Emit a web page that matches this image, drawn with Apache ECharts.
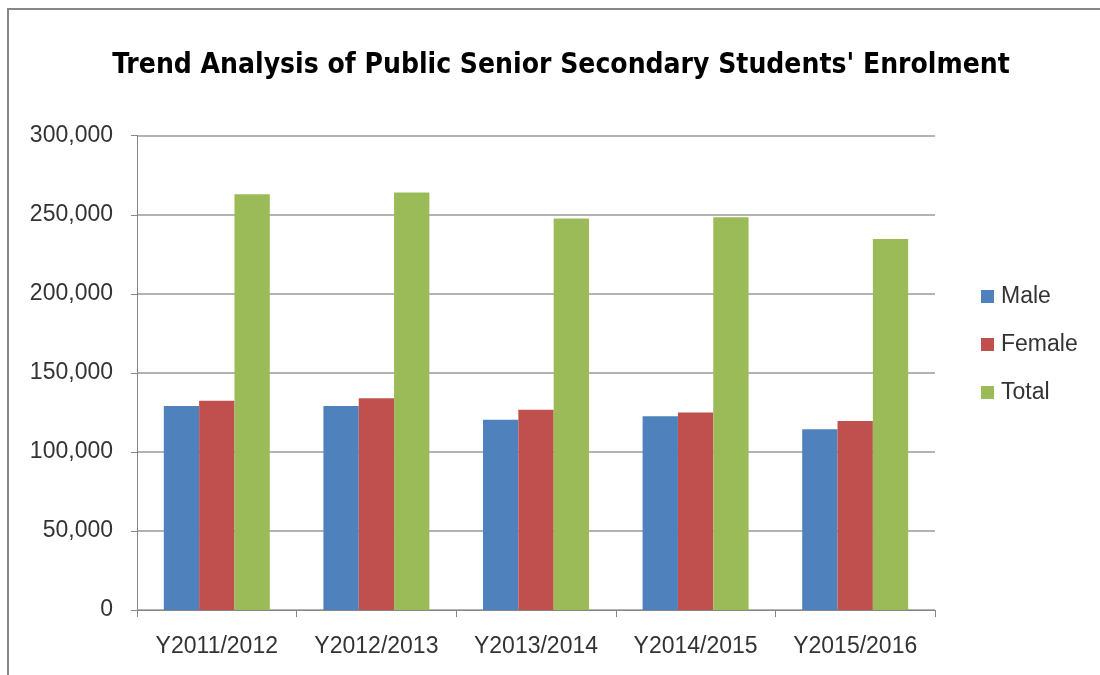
<!DOCTYPE html>
<html>
<head>
<meta charset="utf-8">
<script src="https://cdn.jsdelivr.net/npm/echarts@6/dist/echarts.min.js"></script>
<style>html,body{margin:0;padding:0;background:#fff}#c{width:1100px;height:675px}</style>
</head>
<body>
<div id="c"></div>
<script>
const categories = ['Y2011/2012','Y2012/2013','Y2013/2014','Y2014/2015','Y2015/2016'];
const male = [129100, 129100, 120300, 122600, 114400];
const female = [132300, 134000, 126600, 125000, 119500];
const total = [263000, 264000, 247600, 248400, 234700];
const seriesNames = ['Male','Female','Total'];
const colors = ['#4F81BD','#C0504D','#9BBB59'];

const chart = echarts.init(document.getElementById('c'), null, {renderer:'canvas'});
const labelFont = {fontFamily:'Liberation Sans, sans-serif', fontSize:23, color:'#333'};
chart.setOption({
  animation:false,
  backgroundColor:'#fff',
  title:{
    text:"Trend Analysis of Public Senior Secondary Students' Enrolment",
    left:556, top:47, textAlign:'center',
    textStyle:{fontFamily:'DejaVu Sans Condensed, DejaVu Sans, sans-serif', fontWeight:'bold', fontSize:28, color:'#000'}
  },
  graphic:[{type:'rect', shape:{x:8,y:9,width:1200,height:800}, style:{fill:'none', stroke:'#888', lineWidth:2}, silent:true}],
  legend:{
    orient:'vertical', left:976, top:280, itemWidth:13, itemHeight:13, itemGap:25,
    icon:'rect',
    textStyle:Object.assign({}, labelFont, {padding:[0,0,0,2]}),
    data:seriesNames
  },
  grid:{left:137, right:165, top:135.7, bottom:65, containLabel:false},
  xAxis:{
    type:'category', data:categories,
    axisLine:{lineStyle:{color:'#868686', width:1}},
    axisTick:{show:true, length:7, lineStyle:{color:'#868686'}},
    axisLabel:Object.assign({}, labelFont, {margin:25, interval:0})
  },
  yAxis:{
    type:'value', min:0, max:300000, interval:50000,
    axisLine:{show:true, lineStyle:{color:'#868686'}},
    axisTick:{show:true, length:6, lineStyle:{color:'#868686'}},
    splitLine:{lineStyle:{color:'#9a9a9a', width:1.5}},
    axisLabel:Object.assign({}, labelFont, {margin:24, formatter:v=>v.toLocaleString('en-US')})
  },
  series:[
    {name:seriesNames[0], type:'bar', data:male, itemStyle:{color:colors[0]}, barGap:'0%', barCategoryGap:'33.6%'},
    {name:seriesNames[1], type:'bar', data:female, itemStyle:{color:colors[1]}, barGap:'0%', barCategoryGap:'33.6%'},
    {name:seriesNames[2], type:'bar', data:total, itemStyle:{color:colors[2]}, barGap:'0%', barCategoryGap:'33.6%'}
  ]
});
</script>
</body>
</html>
